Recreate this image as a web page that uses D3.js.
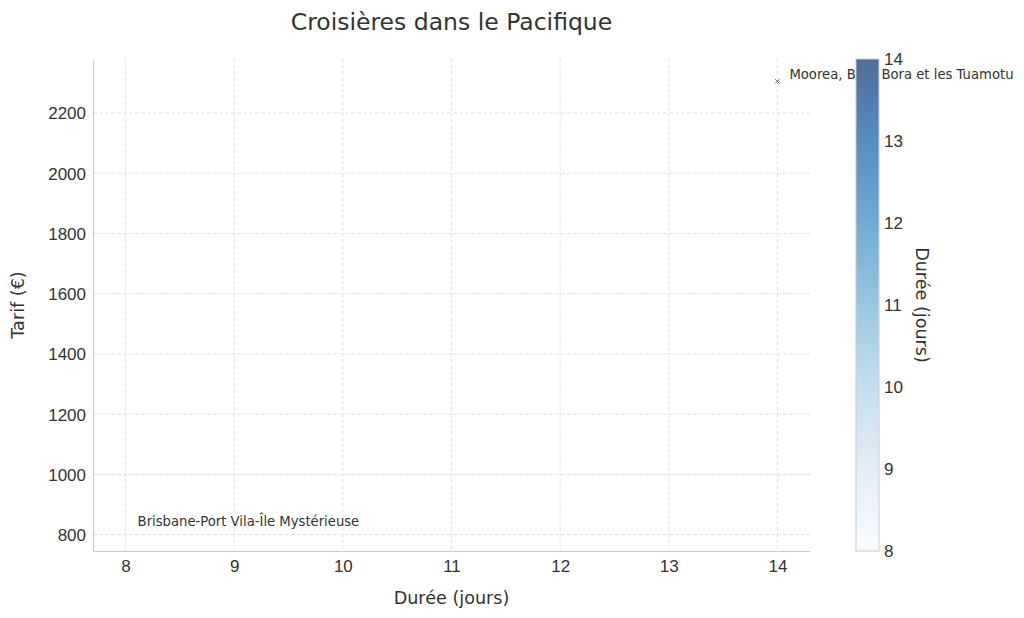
<!DOCTYPE html>
<html>
<head>
<meta charset="utf-8">
<script src="https://cdn.jsdelivr.net/npm/d3@7"></script>
<style>
  body { margin: 0; background: #fff; }
  svg { font-family: "DejaVu Sans", sans-serif; }
</style>
</head>
<body>
<div id="chart"></div>
<script>
// data
const cruises = ["Brisbane-Port Vila-Île Mystérieuse", "Moorea, Bora Bora et les Tuamotu"];
const durations = [8, 14];
const prices = [820, 2305];
const xTicks = [8, 9, 10, 11, 12, 13, 14];
const yTicks = [800, 1000, 1200, 1400, 1600, 1800, 2000, 2200];
const cbTicks = [8, 9, 10, 11, 12, 13, 14];

const width = 1024;
const height = 618;
const margin = { top: 59, right: 214, bottom: 67, left: 93 };

const svg = d3.select("#chart")
  .append("svg")
  .attr("width", width)
  .attr("height", height);

const pad = (a, b) => [a - (b - a) * 0.05, b + (b - a) * 0.05];

const x = d3.scaleLinear()
  .domain(pad(d3.min(durations), d3.max(durations)))
  .range([margin.left, width - margin.right]);

const y = d3.scaleLinear()
  .domain(pad(d3.min(prices), d3.max(prices)))
  .range([height - margin.bottom, margin.top]);

const color = d3.scaleSequential(d3.interpolateBlues)
  .domain([d3.min(durations), d3.max(durations)]);

// grid
svg.append("g")
  .selectAll("line")
  .data(xTicks)
  .enter()
  .append("line")
  .attr("x1", d => x(d)).attr("x2", d => x(d))
  .attr("y1", margin.top).attr("y2", height - margin.bottom)
  .attr("stroke", "#e3e3e3")
  .attr("stroke-dasharray", "4,2");

svg.append("g")
  .selectAll("line")
  .data(yTicks)
  .enter()
  .append("line")
  .attr("x1", margin.left).attr("x2", width - margin.right)
  .attr("y1", d => y(d)).attr("y2", d => y(d))
  .attr("stroke", "#e3e3e3")
  .attr("stroke-dasharray", "4,2");

// axes
const xAxis = d3.axisBottom(x).tickValues(xTicks).tickFormat(d3.format("d")).tickSize(0).tickPadding(9);
svg.append("g")
  .attr("transform", `translate(0,${height - margin.bottom})`)
  .call(xAxis)
  .call(g => g.select(".domain").attr("stroke", "#cccccc").attr("stroke-width", 1.2))
  .selectAll("text")
  .attr("fill", "#333")
  .style("font-size", "17px");

const yAxis = d3.axisLeft(y).tickValues(yTicks).tickFormat(d3.format("d")).tickSize(0).tickPadding(7);
svg.append("g")
  .attr("transform", `translate(${margin.left},0)`)
  .call(yAxis)
  .call(g => g.select(".domain").attr("stroke", "#cccccc").attr("stroke-width", 1.2))
  .selectAll("text")
  .attr("fill", "#333")
  .attr("dy", "0.35em")
  .style("font-size", "17px");

// markers
const pts = cruises.map((c, i) => ({ name: c, d: durations[i], p: prices[i] }));

svg.append("g")
  .selectAll("path")
  .data(pts)
  .enter()
  .append("path")
  .attr("d", d3.symbol(d3.symbolX, 14))
  .attr("transform", d => `translate(${x(d.d)},${y(d.p)})`)
  .attr("fill", "none")
  .attr("stroke", d => color(d.d))
  .attr("stroke-opacity", 0.7)
  .attr("stroke-width", 1);

svg.append("g")
  .selectAll("text")
  .data(pts)
  .enter()
  .append("text")
  .attr("x", d => x(d.d) + 12)
  .attr("y", d => y(d.p) - 7)
  .attr("dy", "0.35em")
  .attr("fill", "#333")
  .style("font-size", "13.2px")
  .text(d => d.name);

// titles
svg.append("text")
  .attr("x", (margin.left + width - margin.right) / 2)
  .attr("y", 30)
  .attr("text-anchor", "middle")
  .attr("fill", "#333")
  .style("font-size", "23.5px")
  .text("Croisières dans le Pacifique");

svg.append("text")
  .attr("x", (margin.left + width - margin.right) / 2)
  .attr("y", 604)
  .attr("text-anchor", "middle")
  .attr("fill", "#333")
  .style("font-size", "17.6px")
  .text("Durée (jours)");

svg.append("text")
  .attr("transform", `translate(24,${(margin.top + height - margin.bottom) / 2}) rotate(-90)`)
  .attr("text-anchor", "middle")
  .attr("fill", "#333")
  .style("font-size", "17.6px")
  .text("Tarif (€)");

// colorbar (drawn over the annotation, like its own axes)
const cbX = 856, cbW = 23;
const cb = d3.scaleLinear()
  .domain([d3.min(cbTicks), d3.max(cbTicks)])
  .range([height - margin.bottom, margin.top]);

const defs = svg.append("defs");
const grad = defs.append("linearGradient")
  .attr("id", "cbgrad")
  .attr("x1", 0).attr("y1", 1).attr("x2", 0).attr("y2", 0);
d3.range(0, 1.0001, 0.05).forEach(t => {
  grad.append("stop")
    .attr("offset", t)
    .attr("stop-color", color(cb.domain()[0] + t * (cb.domain()[1] - cb.domain()[0])));
});

svg.append("rect")
  .attr("x", cbX)
  .attr("y", cb(14))
  .attr("width", cbW)
  .attr("height", cb(8) - cb(14))
  .attr("fill", "#fff");

svg.append("rect")
  .attr("x", cbX)
  .attr("y", cb(14))
  .attr("width", cbW)
  .attr("height", cb(8) - cb(14))
  .attr("fill", "url(#cbgrad)")
  .attr("fill-opacity", 0.7)
  .attr("stroke", "#cccccc")
  .attr("stroke-width", 1);

const cbAxis = d3.axisRight(cb).tickValues(cbTicks).tickFormat(d3.format("d")).tickSize(0).tickPadding(5);
svg.append("g")
  .attr("transform", `translate(${cbX + cbW},0)`)
  .call(cbAxis)
  .call(g => g.select(".domain").remove())
  .selectAll("text")
  .attr("fill", "#333")
  .style("font-size", "17px");

svg.append("text")
  .attr("transform", `translate(916,${(margin.top + height - margin.bottom) / 2}) rotate(90)`)
  .attr("text-anchor", "middle")
  .attr("fill", "#333")
  .style("font-size", "17.6px")
  .text("Durée (jours)");
</script>
</body>
</html>
